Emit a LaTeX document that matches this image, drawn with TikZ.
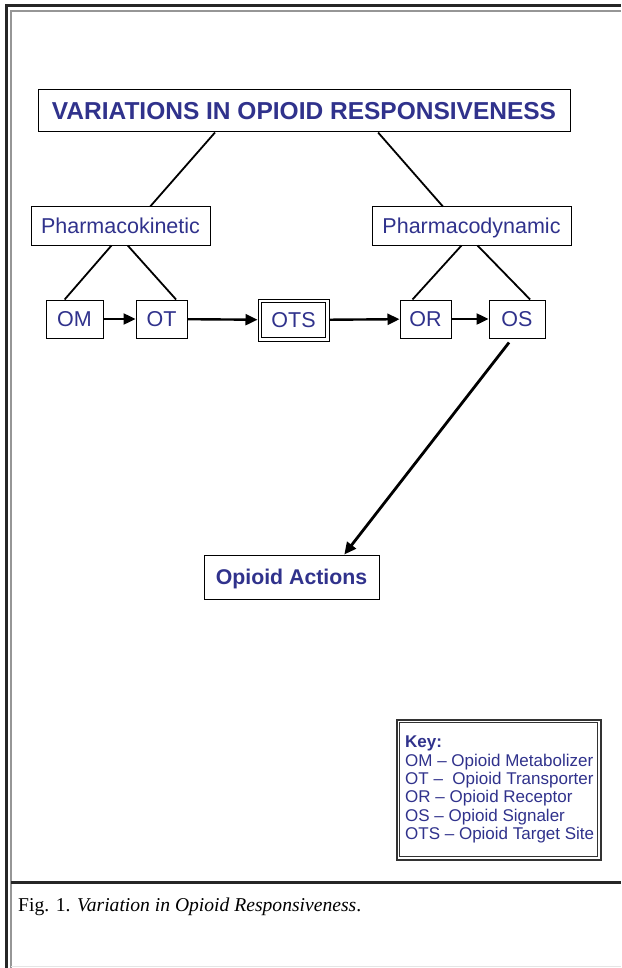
\documentclass[tikz,border=0pt]{standalone}
\usepackage{fontspec}
\setmainfont{Liberation Serif}
\newfontfamily\arialf{Liberation Sans}
\usetikzlibrary{arrows.meta,calc}
\definecolor{navy}{RGB}{48,50,140}
\definecolor{framegray}{RGB}{150,150,150}
\begin{document}
\begin{tikzpicture}[x=1pt,y=-1pt,
  box/.style={draw=black,line width=1pt,fill=white,inner sep=0pt,text=navy,text height=17.5pt,text depth=2.5pt,font=\arialf\fontsize{21.5}{24}\selectfont},
  conn/.style={line width=1.8pt},
  arr/.style={line width=2.4pt,-{Triangle[length=12pt,width=11pt]}}]
\useasboundingbox (0,0) rectangle (621,968);
\fill[white] (0,0) rectangle (621,968);
% outer frame
\draw[line width=3pt,black!85] (6,968) -- (6,6) -- (621,6);
\draw[line width=1.3pt,framegray] (11,968) -- (11,11) -- (621,11);
\draw[line width=3pt,black!85] (11,882) -- (621,882);
\draw[line width=0.6pt,black!10] (11,966) -- (621,966);
% nodes
\node[box,minimum width=532pt,minimum height=42pt,text height=18.5pt,text depth=1pt,font=\arialf\bfseries\fontsize{24.5}{27}\selectfont] (title) at (304,111) {VARIATIONS IN OPIOID RESPONSIVENESS};
\node[box,minimum width=179pt,minimum height=38pt] (pk) at (120.5,226) {Pharmacokinetic};
\node[box,minimum width=199pt,minimum height=38pt] (pd) at (471.5,226) {Pharmacodynamic};
\node[box,minimum width=57pt,minimum height=38pt] (om) at (74.5,319) {OM};
\node[box,minimum width=51pt,minimum height=38pt] (ot) at (161.5,319) {OT};
\node[box,minimum width=71pt,minimum height=42pt] (ots) at (293.5,320) {OTS};
\draw[line width=1pt] ([shift={(4,4)}]ots.north west) rectangle ([shift={(-4,-4)}]ots.south east);
\node[box,minimum width=51pt,minimum height=38pt] (or) at (425.5,319) {OR};
\node[box,minimum width=56pt,minimum height=38pt] (os) at (517,319) {OS};
\node[box,minimum width=175pt,minimum height=44pt,font=\arialf\bfseries\fontsize{21.3}{24}\selectfont] (act) at (291.5,577) {Opioid Actions};
% key
\node[draw=black!80,line width=2pt,fill=white,minimum width=204pt,minimum height=140pt,inner sep=0pt] (key) at (498.5,789.5) {};
\draw[line width=0.9pt,black!80] ([shift={(4,4)}]key.north west) rectangle ([shift={(-4,-4)}]key.south east);
\node[anchor=north west,text=navy,inner sep=0pt,align=left,font=\arialf\fontsize{17}{18.3}\selectfont] (keytext) at (405,736) {\textbf{Key:}\\OM – Opioid Metabolizer\\OT –\ \ Opioid Transporter\\OR – Opioid Receptor\\OS – Opioid Signaler\\OTS – Opioid Target Site};
% caption
\node[anchor=base west,inner sep=0pt,font=\fontsize{19.6}{22}\selectfont] (cap) at (18,911) {Fig. 1. \textit{Variation in Opioid Responsiveness}.};
% connectors
\draw[conn] ($(title.south west)!0.333!(title.south east)$) -- ($(pk.north west)!0.665!(pk.north east)$);
\draw[conn] ($(title.south west)!0.639!(title.south east)$) -- ($(pd.north west)!0.357!(pd.north east)$);
\draw[conn] ($(pk.south west)!0.45!(pk.south east)$) -- ($(om.north west)!0.33!(om.north east)$);
\draw[conn] ($(pk.south west)!0.54!(pk.south east)$) -- ($(ot.north west)!0.78!(ot.north east)$);
\draw[conn] ($(pd.south west)!0.45!(pd.south east)$) -- ($(or.north west)!0.25!(or.north east)$);
\draw[conn] ($(pd.south west)!0.53!(pd.south east)$) -- ($(os.north west)!0.73!(os.north east)$);
\draw[arr] (om) -- (ot);
\draw[arr] (ot) -- (ots);
\draw[arr] (ots) -- (or);
\draw[arr] (or) -- (os);
\draw[arr,line width=2.8pt] ($(os.south west)!0.36!(os.south east)+(0,4)$) -- ($(act.north west)!0.8!(act.north east)$);
\end{tikzpicture}
\end{document}
